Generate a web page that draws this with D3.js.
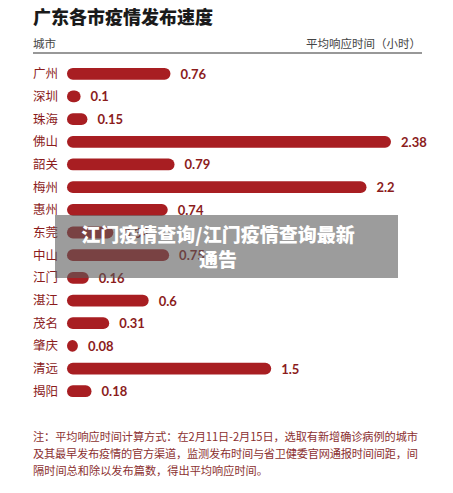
<!DOCTYPE html><html><head><meta charset="utf-8"><script src="https://cdn.jsdelivr.net/npm/d3@7"></script>
<style>body{margin:0;background:#fff;font-family:"Noto Sans CJK SC",sans-serif}</style></head><body><svg id="c" width="453" height="493"></svg>
<script>
const cities=["广州","深圳","珠海","佛山","韶关","梅州","惠州","东莞","中山","江门","湛江","茂名","肇庆","清远","揭阳"];
const hours=[0.76,0.1,0.15,2.38,0.79,2.2,0.74,0.34,0.75,0.16,0.6,0.31,0.08,1.5,0.18];
const notes=["注：平均响应时间计算方式：在2月11日-2月15日，选取有新增确诊病例的城市","及其最早发布疫情的官方渠道，监测发布时间与省卫健委官网通报时间间距，间","隔时间总和除以发布篇数，得出平均响应时间。"];
const svg=d3.select("#c");
svg.append("text").attr("x",33).attr("y",24).attr("font-size",18).attr("font-weight",900).attr("fill","#1a1a1a").text("广东各市疫情发布速度");
svg.append("text").attr("x",33).attr("y",48).attr("font-size",11.5).attr("fill","#444").text("城市");
svg.append("text").attr("x",421).attr("y",48).attr("text-anchor","end").attr("font-size",11.5).attr("fill","#444").text("平均响应时间（小时）");
svg.append("line").attr("x1",33).attr("x2",422).attr("y1",53).attr("y2",53).attr("stroke","#333").attr("stroke-width",1.2);
const y=d3.scaleBand().domain(cities).range([57,408]).padding(0.48);
const x=d3.scaleLinear().domain([0,2.38]).range([67,391]);
const g=svg.append("g");
g.selectAll("text.c").data(cities).join("text").attr("x",33).attr("y",d=>y(d)+y.bandwidth()/2+4.5).attr("font-size",12.5).attr("fill","#8b1c1c").text(d=>d);
g.selectAll("rect").data(cities).join("rect").attr("x",x(0)).attr("y",d=>y(d)).attr("height",y.bandwidth()).attr("rx",y.bandwidth()/2)
 .attr("width",(d,i)=>Math.max(x(hours[i])-x(0),y.bandwidth()*0.7)).attr("fill","#a81e22");
g.selectAll("text.v").data(cities).join("text").attr("x",(d,i)=>Math.max(x(hours[i]),x(0)+y.bandwidth()*0.7)+10).attr("y",d=>y(d)+y.bandwidth()/2+5)
 .attr("font-size",13).attr("font-weight",700).attr("fill","#8b1c1c").attr("font-family","Lato,sans-serif").text((d,i)=>hours[i]);
notes.forEach((t,i)=>svg.append("text").attr("x",33).attr("y",441+i*17).attr("font-size",11.2).attr("textLength",i<2?385:null).attr("fill","#8b3030").text(t));
svg.append("rect").attr("x",55).attr("y",215).attr("width",343).attr("height",63).attr("fill","rgba(90,90,90,0.6)");
svg.append("text").attr("x",218).attr("y",242).attr("text-anchor","middle").attr("font-size",19).attr("font-weight",900).attr("fill","#fff").text("江门疫情查询/江门疫情查询最新");
svg.append("text").attr("x",218).attr("y",267).attr("text-anchor","middle").attr("font-size",19).attr("font-weight",900).attr("fill","#fff").text("通告");
</script></body></html>
